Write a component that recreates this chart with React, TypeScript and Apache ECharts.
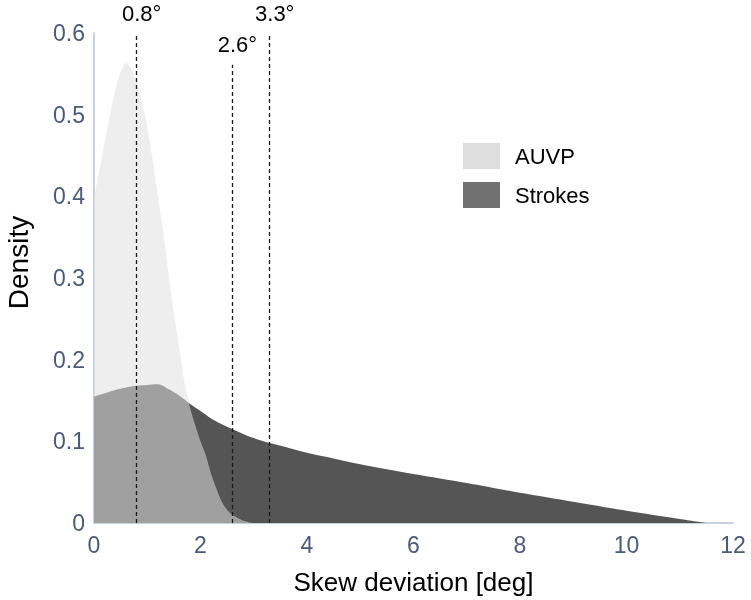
import React, { useEffect, useRef } from "react";
import * as echarts from "echarts";

const auvpX = [0, 0.1, 0.2, 0.3, 0.4, 0.5, 0.6, 0.7, 0.8, 0.9, 1.0, 1.1, 1.2, 1.3, 1.4, 1.5, 1.6, 1.7, 1.8, 1.9, 2.0, 2.1, 2.2, 2.3, 2.4, 2.5, 2.6, 2.7, 2.8, 2.9, 3.0];
const auvpY = [0.398, 0.432, 0.466, 0.5, 0.53, 0.552, 0.563, 0.556, 0.54, 0.515, 0.485, 0.445, 0.4, 0.357, 0.305, 0.257, 0.215, 0.172, 0.142, 0.12, 0.1, 0.083, 0.06, 0.042, 0.026, 0.016, 0.01, 0.006, 0.003, 0.001, 0];

const strokesX = [0, 0.2, 0.4, 0.6, 0.8, 1.0, 1.2, 1.4, 1.6, 1.8, 2.0, 2.2, 2.4, 2.6, 2.8, 3.0, 3.3, 3.6, 4.0, 4.5, 5.0, 6.0, 7.0, 8.0, 9.0, 10.0, 11.0, 11.5];
const strokesY = [0.155, 0.159, 0.163, 0.166, 0.168, 0.169, 0.17, 0.164, 0.156, 0.146, 0.137, 0.128, 0.121, 0.115, 0.109, 0.104, 0.098, 0.093, 0.086, 0.079, 0.072, 0.06, 0.049, 0.037, 0.026, 0.015, 0.005, 0];

const markerX = [0.8, 2.6, 3.3];
const markerTop = [0.6, 0.561, 0.6];
const markerLabels = ["0.8°", "2.6°", "3.3°"];

const FONT = '"Liberation Sans", Arial, Helvetica, sans-serif';

export default function App() {
  const ref = useRef<HTMLDivElement>(null);

  useEffect(() => {
    if (!ref.current) return;
    const chart = echarts.init(ref.current, undefined, { renderer: "svg" });
    const zip = (xs: number[], ys: number[]) => xs.map((x, i) => [x, ys[i]]);
    const axisColor = "#b7c2d6";
    const labelColor = "#4a5a77";

    chart.setOption({
      animation: false,
      textStyle: { fontFamily: FONT },
      grid: { left: 94, right: 18, top: 33, bottom: 77, containLabel: false, outerBoundsMode: "none" },
      legend: {
        orient: "vertical",
        left: 463,
        top: 143,
        padding: 0,
        itemWidth: 37,
        itemHeight: 26,
        itemGap: 13,
        icon: "rect",
        textStyle: { fontSize: 22, color: "#000", fontFamily: FONT, padding: [0, 0, 0, 10] },
        data: [
          { name: "AUVP", itemStyle: { color: "#dedede" } },
          { name: "Strokes", itemStyle: { color: "#717171" } },
        ],
      },
      xAxis: {
        type: "value",
        min: 0,
        max: 12,
        interval: 2,
        name: "Skew deviation [deg]",
        nameLocation: "middle",
        nameGap: 46,
        nameTextStyle: { fontSize: 26, color: "#000", fontFamily: FONT },
        axisLine: { show: true, lineStyle: { color: axisColor, width: 1.5 } },
        axisTick: { show: false },
        splitLine: { show: false },
        axisLabel: { fontSize: 23, color: labelColor, margin: 10, fontFamily: FONT },
      },
      yAxis: {
        type: "value",
        min: 0,
        max: 0.6,
        interval: 0.1,
        name: "Density",
        nameLocation: "middle",
        nameRotate: 90,
        nameGap: 62,
        nameTextStyle: { fontSize: 28, color: "#000", fontFamily: FONT, padding: [0, 0, 0, 31] },
        axisLine: { show: true, lineStyle: { color: axisColor, width: 1.5 } },
        axisTick: { show: false },
        splitLine: { show: false },
        axisLabel: {
          fontSize: 23,
          color: labelColor,
          margin: 9,
          fontFamily: FONT,
          formatter: (v: number) => (v === 0 ? "0" : v.toFixed(1)),
        },
      },
      series: [
        {
          name: "Strokes",
          type: "line",
          data: zip(strokesX, strokesY),
          showSymbol: false,
          smooth: 0.3,
          z: 2,
          itemStyle: { color: "#717171" },
          lineStyle: { width: 0 },
          areaStyle: { color: "#555555", opacity: 1 },
        },
        {
          name: "AUVP",
          type: "line",
          data: zip(auvpX, auvpY),
          showSymbol: false,
          smooth: 0.3,
          z: 3,
          itemStyle: { color: "#dedede" },
          lineStyle: { width: 0 },
          areaStyle: { color: "#e0e0e0", opacity: 0.54 },
          markLine: {
            silent: true,
            symbol: ["none", "none"],
            lineStyle: { color: "#1a1a1a", type: [4, 3], width: 1.3, opacity: 1 },
            label: {
              show: true,
              position: "end",
              distance: 9,
              offset: [5, 0],
              fontSize: 22,
              color: "#000",
              fontFamily: FONT,
            },
            data: markerX.map((x, i) => [
              { coord: [x, 0] },
              { coord: [x, markerTop[i]], label: { formatter: markerLabels[i] } },
            ]),
          },
        },
      ],
    });

    return () => chart.dispose();
  }, []);

  return (
    <div
      ref={ref}
      style={{ position: "fixed", left: 0, top: 0, width: 751, height: 600 }}
    />
  );
}
